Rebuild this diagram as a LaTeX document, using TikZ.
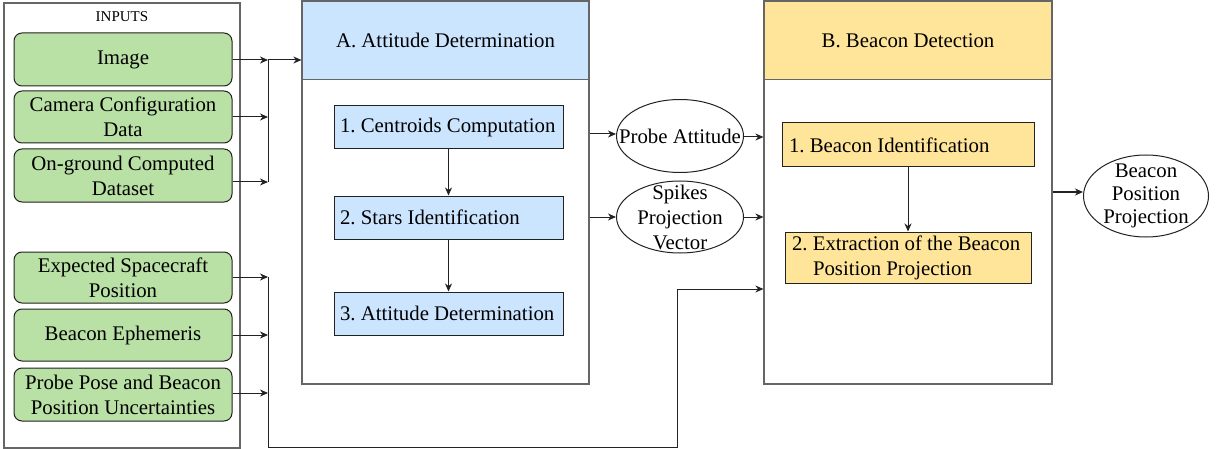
\documentclass[tikz,border=0pt]{standalone}
\usepackage{fontspec}
\setmainfont{Liberation Serif}
\usetikzlibrary{shapes.geometric,arrows.meta}
\definecolor{gfill}{HTML}{B9E0A5}
\definecolor{bfill}{HTML}{CCE5FF}
\definecolor{yfill}{HTML}{FFE599}
\definecolor{edgegray}{HTML}{666666}
\definecolor{dark}{HTML}{222222}
\frenchspacing
\tikzset{
  lbl/.style={font=\fontsize{20.8pt}{25pt}\selectfont},
  outerbox/.style={draw=edgegray, line width=1.2pt, inner sep=0pt},
  inbox/.style={draw=dark, line width=1pt, fill=gfill, rounded corners=8pt, minimum width=218pt, minimum height=52pt, inner sep=0pt, align=center, lbl},
  headA/.style={draw=edgegray, line width=1.2pt, fill=bfill, minimum width=287pt, minimum height=78pt, inner sep=0pt, lbl},
  headB/.style={draw=edgegray, line width=1.2pt, fill=yfill, minimum width=288pt, minimum height=78pt, inner sep=0pt, lbl},
  stepA/.style={draw=dark, line width=1pt, fill=bfill, minimum height=43pt, inner xsep=6pt, inner ysep=0pt, text width=217pt, align=flush left, lbl},
  stepB/.style={draw=dark, line width=1pt, fill=yfill, minimum height=44pt, inner xsep=7pt, inner ysep=0pt, align=flush left, lbl},
  oval/.style={draw=dark, line width=1pt, ellipse, inner sep=0pt},
  ovaltext/.style={inner sep=0pt, align=center, lbl},
  wire/.style={draw=dark, line width=1pt},
  arr/.style={wire, -{Stealth[length=8pt,width=7pt,inset=2.5pt]}},
}
\begin{document}
\begin{tikzpicture}[x=1pt,y=-1pt]
\useasboundingbox (0,0) rectangle (1217,449);
% Inputs container
\node[outerbox, minimum width=236pt, minimum height=445pt] (inputs) at (122,225.5) {};
\node[font=\fontsize{15pt}{17pt}\selectfont] (inlbl) at (122,17) {INPUTS};
\node[inbox, minimum height=53pt] (g1) at (123,59.5) {Image};
\node[inbox] (g2) at (123,117) {Camera Configuration\\Data};
\node[inbox, minimum height=53pt] (g3) at (123,175.5) {On-ground Computed\\Dataset};
\node[inbox, minimum height=51pt] (g4) at (123,277.5) {Expected Spacecraft\\Position};
\node[inbox] (g5) at (123,335) {Beacon Ephemeris};
\node[inbox, minimum height=53pt] (g6) at (123,394.5) {Probe Pose and Beacon\\Position Uncertainties};

% A block
\node[outerbox, minimum width=287pt, minimum height=383pt] (Aouter) at (445.5,192.5) {};
\node[headA] (Ahead) at (445.5,40.5) {A. Attitude Determination};
\node[stepA] (A1) at (448.5,127.5) {1. Centroids Computation};
\node[stepA] (A2) at (448.5,217.5) {2. Stars Identification};
\node[stepA] (A3) at (448.5,313.5) {3. Attitude Determination};

% B block
\node[outerbox, minimum width=288pt, minimum height=383pt] (Bouter) at (908,192.5) {};
\node[headB] (Bhead) at (908,40.5) {B. Beacon Detection};
\node[stepB, text width=238pt] (B1) at (908,145) {1. Beacon Identification};
\node[stepB, minimum height=51pt, text width=232pt] (B2) at (908,257.5) {2. Extraction of the Beacon\\\hspace*{21pt}Position Projection};

% ellipses
\node[oval, minimum width=127pt, minimum height=73pt] (PA) at (680,136) {};
\node[ovaltext] (PAt) at (PA.center) {Probe Attitude};
\node[oval, minimum width=127pt, minimum height=72pt] (SPV) at (680,217) {};
\node[ovaltext] (SPVt) at (SPV.center) {Spikes\\Projection\\Vector};
\node[oval, minimum width=125pt, minimum height=82pt] (BPP) at (1146,196) {};
\node[ovaltext, font=\fontsize{20.8pt}{23pt}\selectfont] (BPPt) at (BPP.center) {Beacon\\Position\\Projection};

% input buses
\coordinate (busTop) at (268,60);
\coordinate (busBot) at (268,182);
\coordinate (bus2Top) at (268,277);
\coordinate (bus2Bot) at (268,447);
\coordinate (turn) at (677,447);
\coordinate (turnUp) at (677,289);

\draw[arr] (g1.east |- busTop) -- (busTop);
\draw[arr] (g2.east) -- (g2.east -| busTop);
\draw[arr] ([yshift=-6.5pt]g3.east) -- ([yshift=-6.5pt]g3.east -| busTop);
\draw[wire] (busTop) -- (busBot);
\draw[arr] (busTop) -- (busTop -| Aouter.west);

\draw[arr] (g4.east |- bus2Top) -- (bus2Top);
\draw[arr] (g5.east) -- (g5.east -| bus2Top);
\draw[arr] ([yshift=1.5pt]g6.east) -- ([yshift=1.5pt]g6.east -| bus2Top);
\draw[wire] (bus2Top) -- (bus2Bot) -- (turn) -- (turnUp);
\draw[arr] (turnUp) -- (turnUp -| Bouter.west);

% internal arrows
\draw[arr] (A1.south) -- (A2.north);
\draw[arr] (A2.south) -- (A3.north);
\draw[arr] (B1.south) -- (B2.north);

% between blocks
\draw[arr] ([yshift=2pt]PA.west -| Aouter.east) -- ([yshift=2pt]PA.west);
\draw[arr] ([yshift=-1pt]PA.east) -- ([yshift=-1pt]PA.east -| Bouter.west);
\draw[arr] (SPV.west -| Aouter.east) -- (SPV.west);
\draw[arr] (SPV.east) -- (SPV.east -| Bouter.west);
\draw[arr] ([yshift=4pt]BPP.west -| Bouter.east) -- ([yshift=4pt]BPP.west);
\end{tikzpicture}
\end{document}
